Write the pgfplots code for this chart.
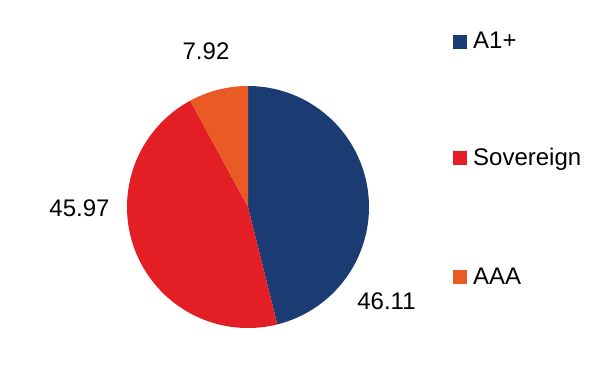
\documentclass[border=0pt]{standalone}
\usepackage{fontspec}
\setmainfont{Liberation Sans}
\usepackage{pgfplots}
\pgfplotsset{compat=1.18}
\definecolor{cA}{HTML}{1B3C73}
\definecolor{cS}{HTML}{E31E24}
\definecolor{cO}{HTML}{E95A24}
\def\vA{46.11}
\def\vS{45.97}
\def\vO{7.92}
\begin{document}
\begin{tikzpicture}
\useasboundingbox (0,0) rectangle (611pt,391pt);
\pgfmathsetmacro{\aA}{90-3.6*\vA}
\pgfmathsetmacro{\aS}{\aA-3.6*\vS}
\pgfmathsetmacro{\aO}{\aS-3.6*\vO}
\begin{axis}[
  at={(0,0)}, anchor=south west,
  hide axis, scale only axis,
  width=611pt, height=391pt,
  xmin=0, xmax=611, ymin=0, ymax=391,
  clip=false,
]
% pie slices (centre 248,184; radius 121)
\addplot[fill=cA, draw=none, domain=\aA:90, samples=120, variable=\t]
  ({248+121*cos(\t)},{184+121*sin(\t)}) -- (axis cs:248,184) -- cycle;
\addplot[fill=cS, draw=none, domain=\aS:\aA, samples=120, variable=\t]
  ({248+121*cos(\t)},{184+121*sin(\t)}) -- (axis cs:248,184) -- cycle;
\addplot[fill=cO, draw=none, domain=\aO:\aS, samples=30, variable=\t]
  ({248+121*cos(\t)},{184+121*sin(\t)}) -- (axis cs:248,184) -- cycle;
% value labels
\node[font=\fontsize{24}{28}\selectfont] at (axis cs:206,339.5) {7.92};
\node[font=\fontsize{24}{28}\selectfont] at (axis cs:79.5,183) {45.97};
\node[font=\fontsize{24}{28}\selectfont] at (axis cs:386.5,89.5) {46.11};
% legend
\addplot[only marks, mark=square*, mark size=6.5pt, color=cA] coordinates {(460,349.7)};
\addplot[only marks, mark=square*, mark size=6.5pt, color=cS] coordinates {(460,233)};
\addplot[only marks, mark=square*, mark size=6.5pt, color=cO] coordinates {(460,114.5)};
\node[anchor=mid west, inner sep=0pt, font=\fontsize{24}{28}\selectfont] at (axis cs:473,345) {A1+};
\node[anchor=mid west, inner sep=0pt, font=\fontsize{24}{28}\selectfont] at (axis cs:473,228) {Sovereign};
\node[anchor=mid west, inner sep=0pt, font=\fontsize{24}{28}\selectfont] at (axis cs:473,109) {AAA};
\end{axis}
\end{tikzpicture}
\end{document}
